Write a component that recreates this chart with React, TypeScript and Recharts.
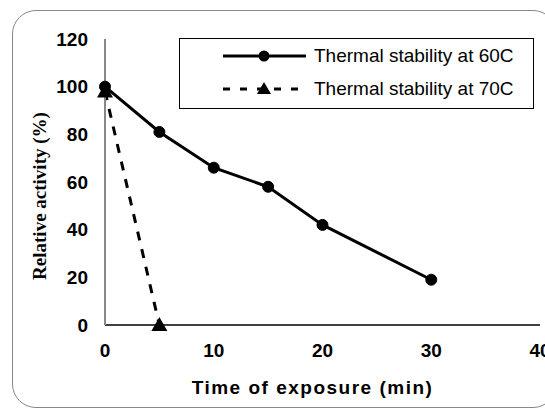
import { LineChart, Line, XAxis, YAxis, Legend } from 'recharts';

const times = [0, 5, 10, 15, 20, 30];
const stability60 = [100, 81, 66, 58, 42, 19];
const stability70 = [98, 0];
const xTicks = [0, 10, 20, 30, 40];
const yTicks = [0, 20, 40, 60, 80, 100, 120];
const seriesNames = ['Thermal stability at 60C', 'Thermal stability at 70C'];

const chartData = times.map((t, i) => ({
  time: t,
  s60: stability60[i],
  s70: i < stability70.length ? stability70[i] : null,
}));

const Triangle = (props: any) => {
  const { cx, cy } = props;
  if (cx == null || cy == null) return null;
  return <polygon points={`${cx},${cy - 8} ${cx - 8},${cy + 6} ${cx + 8},${cy + 6}`} fill="#000" />;
};

const LegendBox = () => (
  <div
    style={{
      width: 355,
      height: 71,
      boxSizing: 'border-box',
      border: '1px solid #000',
      background: '#fff',
      fontFamily: 'Arial, "Liberation Sans", sans-serif',
      fontSize: 19,
      color: '#000',
    }}
  >
    {seriesNames.map((name, i) => (
      <div key={name} style={{ display: 'flex', alignItems: 'center', height: 33, paddingLeft: 42, whiteSpace: 'nowrap' }}>
        <svg width={88} height={20} style={{ marginRight: 4, flexShrink: 0 }}>
          {i === 0 ? (
            <>
              <line x1={1} y1={10} x2={84} y2={10} stroke="#000" strokeWidth={3} />
              <circle cx={42} cy={10} r={5.5} fill="#000" />
            </>
          ) : (
            <>
              <line x1={1} y1={10} x2={84} y2={10} stroke="#000" strokeWidth={3} strokeDasharray="7 10" />
              <polygon points="42,3 35,15 49,15" fill="#000" />
            </>
          )}
        </svg>
        <span>{name}</span>
      </div>
    ))}
  </div>
);

const tickStyle = {
  fontFamily: 'Arial, "Liberation Sans", sans-serif',
  fontSize: 19,
  fontWeight: 'bold' as const,
  fill: '#000',
};

export default function App() {
  return (
    <div style={{ position: 'absolute', left: 0, top: 0, width: 545, height: 408, background: '#fff', overflow: 'hidden' }}>
      <div
        style={{
          position: 'absolute',
          left: 12,
          top: 10,
          width: 545,
          height: 398,
          border: '1.5px solid #888',
          borderRadius: 24,
          boxSizing: 'border-box',
        }}
      />
      <LineChart
        width={545}
        height={408}
        data={chartData}
        margin={{ top: 39, right: 5, left: 0, bottom: 0 }}
        style={{ position: 'absolute', left: 0, top: 0 }}
      >
        <XAxis
          dataKey="time"
          type="number"
          domain={[0, 40]}
          ticks={xTicks}
          height={83}
          axisLine={{ stroke: '#404040', strokeWidth: 2 }}
          tickLine={false}
          tickMargin={13}
          tick={tickStyle}
          interval={0}
          label={{
            value: 'Time of exposure (min)',
            position: 'insideBottom',
            offset: 14,
            dx: -10,
            style: { ...tickStyle, fontSize: 19, letterSpacing: 1.5 },
          }}
        />
        <XAxis xAxisId="top" orientation="top" dataKey="time" type="number" domain={[0, 40]} height={0} tick={false} tickLine={false} axisLine={{ stroke: '#888', strokeWidth: 1 }} />
        <YAxis
          type="number"
          domain={[0, 120]}
          ticks={yTicks}
          width={105}
          axisLine={{ stroke: '#888', strokeWidth: 2 }}
          tickLine={false}
          tickMargin={11}
          tick={tickStyle}
          interval={0}
          label={{
            value: 'Relative activity (%)',
            angle: -90,
            position: 'center',
            dx: -13,
            dy: 14,
            style: { fontFamily: '"Times New Roman", "Liberation Serif", serif', fontSize: 19, fontWeight: 'bold', fill: '#000' },
          }}
        />
        <YAxis yAxisId="right" orientation="right" domain={[0, 120]} width={0} tick={false} tickLine={false} axisLine={{ stroke: '#888', strokeWidth: 1 }} />
        <Legend
          layout="horizontal"
          verticalAlign="middle"
          align="center"
          content={<LegendBox />}
          wrapperStyle={{ position: 'absolute', left: 179, top: 38, width: 355, height: 71 }}
        />
        <Line
          dataKey="s70"
          name={seriesNames[1]}
          stroke="#000"
          strokeWidth={3}
          strokeDasharray="9 9"
          dot={<Triangle />}
          isAnimationActive={false}
        />
        <Line
          dataKey="s60"
          name={seriesNames[0]}
          stroke="#000"
          strokeWidth={3}
          dot={{ r: 5.5, fill: '#000', stroke: '#000', strokeWidth: 1 }}
          isAnimationActive={false}
        />
      </LineChart>
    </div>
  );
}
